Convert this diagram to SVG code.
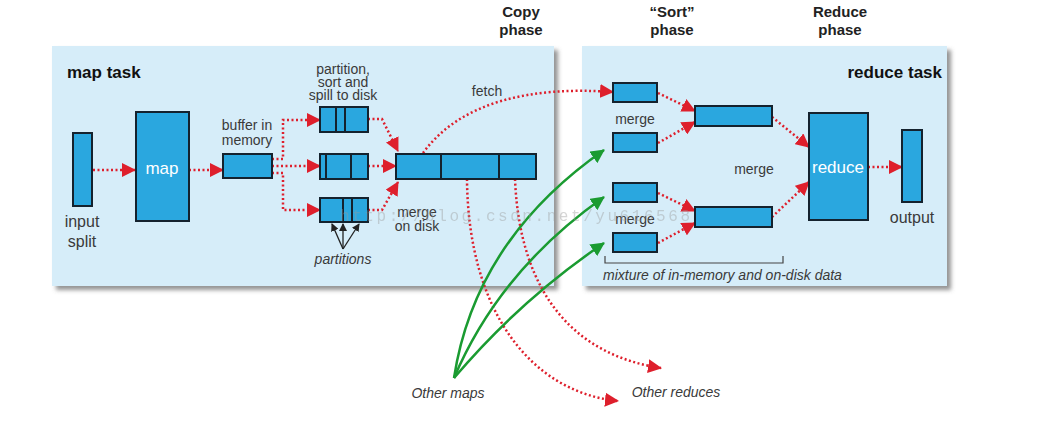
<svg xmlns="http://www.w3.org/2000/svg" width="1064" height="447" viewBox="0 0 1064 447">
<style>
.panel{fill:#d6edf9}
.box{fill:#2aa7df;stroke:#14222e;stroke-width:2}
.div{stroke:#14222e;stroke-width:2}
.lbl{font-family:"Liberation Sans",Arial,sans-serif;font-size:14px;fill:#3a3a3a}
.big{font-family:"Liberation Sans",Arial,sans-serif;font-size:16px;fill:#3a3a3a}
.it{font-family:"Liberation Sans",Arial,sans-serif;font-size:14px;fill:#3a3a3a;font-style:italic}
.bold{font-family:"Liberation Sans",Arial,sans-serif;font-size:17px;font-weight:bold;fill:#111}
.ph{font-family:"Liberation Sans",Arial,sans-serif;font-size:15px;font-weight:bold;fill:#222}
.wt{font-family:"Liberation Sans",Arial,sans-serif;font-size:17px;fill:#fff}
.red{fill:none;stroke:#de1f2c;stroke-width:2.5;stroke-dasharray:2 2.5;marker-end:url(#ra)}
.grn{fill:none;stroke:#1a9b31;stroke-width:2.5;marker-end:url(#ga)}
.blk{fill:none;stroke:#222;stroke-width:1.3;marker-end:url(#ba)}
</style>
<defs>
<filter id="sh" x="-5%" y="-5%" width="115%" height="120%">
<feDropShadow dx="4" dy="4" stdDeviation="2" flood-color="#666" flood-opacity="0.7"/>
</filter>
<marker id="ra" markerUnits="userSpaceOnUse" markerWidth="14" markerHeight="14" refX="13" refY="7" orient="auto"><path d="M0,0 L14,7 L0,14 z" fill="#de1f2c"/></marker>
<marker id="ga" markerUnits="userSpaceOnUse" markerWidth="14" markerHeight="14" refX="13" refY="7" orient="auto"><path d="M0,0 L14,7 L0,14 z" fill="#1a9b31"/></marker>
<marker id="ba" markerUnits="userSpaceOnUse" markerWidth="8" markerHeight="8" refX="7" refY="4" orient="auto"><path d="M0,0 L8,4 L0,8 z" fill="#222"/></marker>
</defs>
<rect width="1064" height="447" fill="#fff"/>

<g id="map-task-panel">
<rect class="panel" x="52" y="46" width="502" height="240" filter="url(#sh)"/>
<text class="bold" x="67" y="78">map task</text>
</g>
<g id="reduce-task-panel">
<rect class="panel" x="582" y="46" width="365" height="240" filter="url(#sh)"/>
<text class="bold" x="942" y="78" text-anchor="end">reduce task</text>
</g>

<g id="phases">
<text class="ph" x="521" y="17" text-anchor="middle">Copy</text>
<text class="ph" x="521" y="35" text-anchor="middle">phase</text>
<text class="ph" x="672" y="17" text-anchor="middle">“Sort”</text>
<text class="ph" x="672" y="35" text-anchor="middle">phase</text>
<text class="ph" x="840" y="17" text-anchor="middle">Reduce</text>
<text class="ph" x="840" y="35" text-anchor="middle">phase</text>
</g>

<g id="connectors">
<path class="red" d="M93,170 H135"/>
<path class="red" d="M189,170 H223"/>
<path class="red" d="M272,159 H283 V120 H320"/>
<path class="red" d="M272,166 H320"/>
<path class="red" d="M272,173 H283 V210 H320"/>
<path class="red" d="M368,119 H382 L398,151"/>
<path class="red" d="M368,166 H396"/>
<path class="red" d="M368,210 H382 L398,182"/>
<path class="red" d="M423,153 C460,102 530,86 613,92"/>
<path class="red" d="M467,179 C468,310 530,392 618,401"/>
<path class="red" d="M515,179 C520,300 580,356 661,368"/>
<path class="grn" d="M454,378 Q475,240 604,150"/>
<path class="grn" d="M454,378 Q500,270 604,197"/>
<path class="grn" d="M454,378 Q520,300 604,243"/>
<path class="red" d="M658,93 L695,111"/>
<path class="red" d="M658,143 L695,122"/>
<path class="red" d="M658,193 L695,211"/>
<path class="red" d="M658,243 L695,223"/>
<path class="red" d="M772,117 L809,147"/>
<path class="red" d="M772,217 L809,182"/>
<path class="red" d="M868,167 H902"/>
<path class="blk" d="M343,249 L332,224"/>
<path class="blk" d="M343,249 L343,224"/>
<path class="blk" d="M343,249 L359,224"/>
</g>

<g id="input-split">
<rect class="box" x="73" y="133" width="19" height="73"/>
<text class="big" x="82" y="227" text-anchor="middle">input</text>
<text class="big" x="82" y="247" text-anchor="middle">split</text>
</g>
<g id="map">
<rect class="box" x="136" y="112" width="53" height="109"/>
<text class="wt" x="162" y="174" text-anchor="middle">map</text>
</g>
<g id="buffer">
<rect class="box" x="223" y="154" width="49" height="24"/>
<text class="lbl" x="247" y="130" text-anchor="middle">buffer in</text>
<text class="lbl" x="247" y="145" text-anchor="middle">memory</text>
</g>
<g id="spill">
<text class="lbl" x="343" y="74" text-anchor="middle">partition,</text>
<text class="lbl" x="343" y="87" text-anchor="middle">sort and</text>
<text class="lbl" x="343" y="100" text-anchor="middle">spill to disk</text>
<rect class="box" x="320" y="107" width="48" height="25"/>
<line class="div" x1="336" y1="107" x2="336" y2="132"/>
<line class="div" x1="345" y1="107" x2="345" y2="132"/>
<rect class="box" x="320" y="154" width="48" height="25"/>
<line class="div" x1="326" y1="154" x2="326" y2="179"/>
<line class="div" x1="351" y1="154" x2="351" y2="179"/>
<rect class="box" x="320" y="198" width="48" height="24"/>
<line class="div" x1="343" y1="198" x2="343" y2="222"/>
<line class="div" x1="352" y1="198" x2="352" y2="222"/>
<text class="it" x="343" y="264" text-anchor="middle">partitions</text>
</g>
<g id="merge-on-disk">
<rect class="box" x="396" y="154" width="140" height="25"/>
<line class="div" x1="441" y1="154" x2="441" y2="179"/>
<line class="div" x1="499" y1="154" x2="499" y2="179"/>
<text class="lbl" x="417" y="217" text-anchor="middle">merge</text>
<text class="lbl" x="417" y="231" text-anchor="middle">on disk</text>
<text class="lbl" x="487" y="96" text-anchor="middle">fetch</text>
</g>

<g id="sort-merge">
<rect class="box" x="613" y="83" width="44" height="19"/>
<rect class="box" x="613" y="133" width="44" height="19"/>
<rect class="box" x="613" y="183" width="44" height="19"/>
<rect class="box" x="613" y="233" width="44" height="19"/>
<text class="lbl" x="635" y="124" text-anchor="middle">merge</text>
<text class="lbl" x="635" y="224" text-anchor="middle">merge</text>
</g>
<g id="merge2">
<rect class="box" x="695" y="106" width="77" height="20"/>
<rect class="box" x="695" y="207" width="77" height="20"/>
<text class="lbl" x="754" y="174" text-anchor="middle">merge</text>
</g>
<g id="reduce">
<rect class="box" x="809" y="113" width="59" height="107"/>
<text class="wt" x="838" y="173" text-anchor="middle">reduce</text>
</g>
<g id="output">
<rect class="box" x="902" y="130" width="20" height="72"/>
<text class="big" x="912" y="223" text-anchor="middle">output</text>
</g>
<g id="mixture">
<path d="M605,256 V263 H783 V256" fill="none" stroke="#444" stroke-width="1.2"/>
<text class="it" x="603" y="280">mixture of in-memory and on-disk data</text>
</g>

<g id="others">
<text class="it" x="448" y="398" text-anchor="middle">Other maps</text>
<text class="it" x="676" y="397" text-anchor="middle">Other reduces</text>
</g>

<text x="340" y="221" font-family="Liberation Mono,monospace" font-size="16" fill="#999" opacity="0.4" textLength="350">http://blog.csdn.net/yu616568</text>
</svg>
